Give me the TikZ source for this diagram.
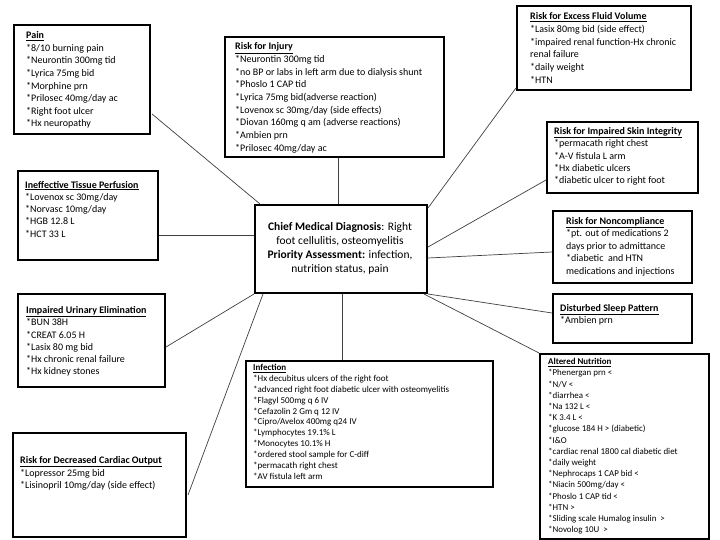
\documentclass[tikz,border=0pt]{standalone}
\usepackage{fontspec}
\setmainfont{Carlito}
\usetikzlibrary{calc}
\newcommand{\ttl}[1]{\underline{\textbf{#1}}}
\newcommand{\tst}{\rule{0pt}{0.8em}}
\tikzset{
  box/.style={draw=black, line width=2pt, anchor=north west, inner sep=0pt, fill=white},
  txt/.style={anchor=north west, inner sep=0pt, align=left, font=\fontsize{10}{12.6}\selectfont},
  smalltxt/.style={txt, font=\fontsize{9}{10.9}\selectfont},
  nutrtxt/.style={txt, font=\fontsize{8.9}{11.2}\selectfont},
  link/.style={draw=black!75, line width=0.7pt},
}
\begin{document}
\begin{tikzpicture}[x=1pt,y=-1pt]
\useasboundingbox[fill=white] (0,0) rectangle (720,540);

% boxes
\node[box, minimum width=136, minimum height=109] (pain) at (13,24) {};
\node[box, minimum width=219, minimum height=120] (injury) at (224,36) {};
\node[box, minimum width=174, minimum height=84] (excess) at (516,5) {};
\node[box, minimum width=151, minimum height=71] (skin) at (546,121) {};
\node[box, minimum width=140, minimum height=89] (ineff) at (17,170) {};
\node[box, minimum width=172, minimum height=88] (chief) at (254,204) {};
\node[box, minimum width=139, minimum height=72] (noncomp) at (552,210) {};
\node[box, minimum width=139, minimum height=49] (sleep) at (552,293) {};
\node[box, minimum width=147, minimum height=93] (urinary) at (17,293) {};
\node[box, minimum width=247, minimum height=126] (infection) at (245,360) {};
\node[box, minimum width=169, minimum height=185] (nutr) at (539,353) {};
\node[box, minimum width=173, minimum height=104] (cardiac) at (12,432) {};

% texts
\node[txt] (painT) at (26,30.5) {\tst\ttl{Pain}\\ *8/10 burning pain\\ *Neurontin 300mg tid\\ *Lyrica 75mg bid\\ *Morphine prn\\ *Prilosec 40mg/day ac\\ *Right foot ulcer\\ *Hx neuropathy};
\node[txt, font=\fontsize{10}{12.67}\selectfont] (injuryT) at (235,41.5) {\tst\ttl{Risk for Injury}\\ *Neurontin 300mg tid\\ *no BP or labs in left arm due to dialysis shunt\\ *Phoslo 1 CAP tid\\ *Lyrica 75mg bid(adverse reaction)\\ *Lovenox sc 30mg/day (side effects)\\ *Diovan 160mg q am (adverse reactions)\\ *Ambien prn\\ *Prilosec 40mg/day ac};
\node[txt, font=\fontsize{10}{12.7}\selectfont] (excessT) at (530,11.5) {\tst\ttl{Risk for Excess Fluid Volume}\\ *Lasix 80mg bid (side effect)\\ *impaired renal function-Hx chronic\\ renal failure\\ *daily weight\\ *HTN};
\node[txt, font=\fontsize{10}{12.4}\selectfont] (skinT) at (554,126) {\tst\ttl{Risk for Impaired Skin Integrity}\\ *permacath right chest\\ *A-V fistula L arm\\ *Hx diabetic ulcers\\ *diabetic ulcer to right foot};
\node[txt, font=\fontsize{10}{12.2}\selectfont] (ineffT) at (25,180) {\tst\ttl{Ineffective Tissue Perfusion}\\ *Lovenox sc 30mg/day\\ *Norvasc 10mg/day\\ *HGB 12.8 L\\ *HCT 33 L};
\node[anchor=center, inner sep=0pt, align=center, font=\fontsize{11.5}{14}\selectfont] (chiefT) at (340,248) {\textbf{Chief Medical Diagnosis}: Right\\ foot cellulitis, osteomyelitis\\ \textbf{Priority Assessment:} infection,\\ nutrition status, pain};
\node[txt, font=\fontsize{10}{12.5}\selectfont] (noncompT) at (566,216) {\tst\ttl{Risk for Noncompliance}\\ *pt. out of medications 2\\ days prior to admittance\\ *diabetic\ \ and HTN\\ medications and injections};
\node[txt] (sleepT) at (560,303) {\tst\ttl{Disturbed Sleep Pattern}\\ *Ambien prn};
\node[txt, font=\fontsize{10}{12.2}\selectfont] (urinaryT) at (26,305.5) {\tst\ttl{Impaired Urinary Elimination}\\ *BUN 38H\\ *CREAT 6.05 H\\ *Lasix 80 mg bid\\ *Hx chronic renal failure\\ *Hx kidney stones};
\node[txt, font=\fontsize{10}{12.5}\selectfont] (cardiacT) at (20,455.5) {\tst\ttl{Risk for Decreased Cardiac Output}\\ *Lopressor 25mg bid\\ *Lisinopril 10mg/day (side effect)};
\node[smalltxt] (infectionT) at (253,363) {\tst\ttl{Infection}\\ *Hx decubitus ulcers of the right foot\\ *advanced right foot diabetic ulcer with osteomyelitis\\ *Flagyl 500mg q 6 IV\\ *Cefazolin 2 Gm q 12 IV\\ *Cipro/Avelox 400mg q24 IV\\ *Lymphocytes 19.1\% L\\ *Monocytes 10.1\% H\\ *ordered stool sample for C-diff\\ *permacath right chest\\ *AV fistula left arm};
\node[nutrtxt] (nutrT) at (548,357.4) {\tst\ttl{Altered Nutrition}\\ *Phenergan prn <\\ *N/V <\\ *diarrhea <\\ *Na 132 L <\\ *K 3.4 L <\\ *glucose 184 H > (diabetic)\\ *I\&O\\ *cardiac renal 1800 cal diabetic diet\\ *daily weight\\ *Nephrocaps 1 CAP bid <\\ *Niacin 500mg/day <\\ *Phoslo 1 CAP tid <\\ *HTN >\\ *Sliding scale Humalog insulin\ \ >\\ *Novolog 10U\ \ >};

% connectors
\draw[link] ($(pain.north east)+(1,90)$) -- ($(chief.north west)+(6,0)$);
\draw[link] ($(injury.south west)+(114,0)$) -- ($(chief.north west)+(84,0)$);
\draw[link] ($(excess.south west)+(0,-3)$) -- ($(chief.north east)+(0,4)$);
\draw[link] ($(skin.north west)+(0,59)$) -- ($(chief.north east)+(0,43)$);
\draw[link] ($(noncomp.north west)+(0,42)$) -- ($(chief.north east)+(0,54)$);
\draw[link] ($(sleep.north west)+(0,20)$) -- (chief.south east);
\draw[link] (nutr.north west) -- ($(chief.south east)+(-4,0)$);
\draw[link] ($(infection.north west)+(97,0)$) -- ($(chief.south west)+(88,0)$);
\draw[link] ($(urinary.north east)+(0,54)$) -- (chief.south west);
\draw[link] ($(cardiac.north east)+(1,63)$) -- ($(chief.south west)+(9,0)$);
\draw[link] ($(ineff.north east)+(0,65)$) -- ($(chief.north west)+(0,31)$);
\end{tikzpicture}
\end{document}
